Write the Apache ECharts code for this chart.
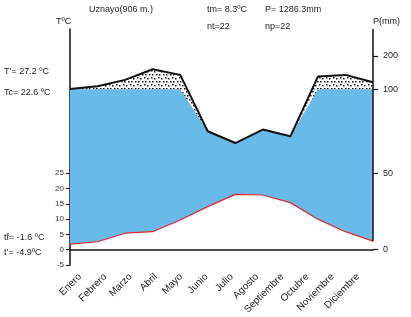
<!DOCTYPE html>
<html>
<head>
<meta charset="utf-8">
<script src="https://cdn.jsdelivr.net/npm/echarts@6/dist/echarts.min.js"></script>
<style>
  html, body { margin: 0; padding: 0; background: #fff; }
  #chart { width: 411px; height: 317px; }
</style>
</head>
<body>
<div id="chart"></div>
<script>
const months = ['Enero', 'Febrero', 'Marzo', 'Abril', 'Mayo', 'Junio', 'Julio', 'Agosto', 'Septiembre', 'Octubre', 'Noviembre', 'Diciembre']
// temperatura media mensual (ºC)
const temps = [1.8, 2.6, 5.4, 5.9, 9.7, 14.1, 18.1, 17.9, 15.4, 10.0, 5.9, 2.8]
// precipitación mensual (mm)
const precip = [101, 109, 128, 160, 143, 75, 68, 76, 72, 138, 143, 121]
const tempTicks = [-5, 0, 5, 10, 15, 20, 25]
const precipTicks = [0, 50, 100, 200]

// mm -> unidades del eje de temperatura (escala comprimida por encima de 100 mm)
const mapP = (p) => {
  if (p <= 50) return p / 2
  if (p <= 100) return 25 + (p - 50) * 0.55
  return 52.5 + (p - 100) * 0.109
}

const yMin = -5
const yMax = 72.2
const blue = '#68bbe9'

// trama de puntos para la zona > 100 mm
const dots = document.createElement('canvas')
dots.width = 7
dots.height = 7
const ctx = dots.getContext('2d')
ctx.fillStyle = '#111'
;[[0, 1], [4, 0], [2, 4], [5, 4]].forEach(([x, y]) => ctx.fillRect(x, y, 1.5, 1.5))

const capped = precip.map((p) => mapP(Math.min(p, 100)))
const full = precip.map(mapP)

const labelFont = 'Liberation Sans, Arial, sans-serif'
const txt = (text, x, y, extra) => ({
  type: 'text',
  x,
  y,
  style: Object.assign({
    text,
    fill: '#222',
    font: '9px ' + labelFont,
    verticalAlign: 'middle'
  }, extra || {})
})

const chart = echarts.init(document.getElementById('chart'))

chart.setOption({
  animation: false,
  backgroundColor: '#fff',
  grid: [
    { left: 70, right: 38, top: 29, bottom: 52 },
    { left: 80, right: 53, top: 29, bottom: 52 }
  ],
  xAxis: [
    {
      type: 'category',
      data: months,
      boundaryGap: false,
      axisLine: { lineStyle: { color: '#111', width: 1.5 } },
      axisTick: { show: false },
      axisLabel: { show: false }
    },
    {
      type: 'category',
      gridIndex: 1,
      data: months,
      boundaryGap: false,
      axisLine: { show: false },
      axisTick: { show: false },
      axisLabel: {
        rotate: 45,
        interval: 0,
        margin: 11,
        fontSize: 10,
        fontFamily: labelFont,
        color: '#222'
      }
    }
  ],
  yAxis: [
    {
      type: 'value',
      min: yMin,
      max: yMax,
      position: 'left',
      splitLine: { show: false },
      axisLine: { show: true, lineStyle: { color: '#111', width: 1.5 } },
      axisTick: { show: true, length: 4, customValues: tempTicks, lineStyle: { color: '#111' } },
      axisLabel: {
        customValues: tempTicks,
        margin: 6,
        fontSize: 8,
        fontFamily: labelFont,
        color: '#333'
      }
    },
    {
      type: 'value',
      min: yMin,
      max: yMax,
      position: 'right',
      splitLine: { show: false },
      axisLine: { show: false },
      axisTick: {
        show: true,
        inside: false,
        length: 5,
        customValues: precipTicks.map(mapP),
        lineStyle: { color: '#111', width: 1.2 }
      },
      axisLabel: {
        customValues: precipTicks.map(mapP),
        margin: 10,
        fontSize: 9,
        fontFamily: labelFont,
        color: '#222',
        formatter: (v) => {
          const i = precipTicks.findIndex((t) => Math.abs(mapP(t) - v) < 0.01)
          return i >= 0 ? String(precipTicks[i]) : ''
        }
      }
    },
    { type: 'value', gridIndex: 1, show: false }
  ],
  series: [
    {
      name: 'baseHumedo',
      type: 'line',
      stack: 'humedo',
      data: temps,
      symbol: 'none',
      lineStyle: { opacity: 0 },
      silent: true
    },
    {
      name: 'humedo',
      type: 'line',
      stack: 'humedo',
      data: capped.map((v, i) => v - temps[i]),
      symbol: 'none',
      lineStyle: { opacity: 0 },
      areaStyle: { color: blue, opacity: 1 },
      silent: true
    },
    {
      name: 'base100',
      type: 'line',
      stack: 'superhumedo',
      data: capped,
      symbol: 'none',
      lineStyle: { opacity: 0 },
      silent: true
    },
    {
      name: 'superhumedo',
      type: 'line',
      stack: 'superhumedo',
      data: full.map((v, i) => v - capped[i]),
      symbol: 'none',
      lineStyle: { opacity: 0 },
      areaStyle: { color: { image: dots, repeat: 'repeat' }, opacity: 1 },
      silent: true
    },
    {
      name: 'Temperatura',
      type: 'line',
      data: temps,
      symbol: 'none',
      z: 4,
      lineStyle: { color: '#e3262b', width: 1.2 }
    },
    {
      name: 'Precipitación',
      type: 'line',
      data: full,
      symbol: 'none',
      z: 5,
      lineStyle: { color: '#111', width: 2 },
      markLine: {
        silent: true,
        symbol: 'none',
        label: { show: false },
        lineStyle: { color: '#111', width: 1.5, type: 'solid' },
        data: [[
          { coord: [months.length - 1, temps[temps.length - 1]] },
          { coord: [months.length - 1, yMax] }
        ]]
      }
    }
  ],
  graphic: [
    txt('Uznayo(906 m.)', 89, 10),
    txt('TºC', 56, 22),
    txt('tm= 8.3ºC', 207, 10),
    txt('P= 1286.3mm', 265, 10),
    txt('nt=22', 207, 27),
    txt('np=22', 265, 27),
    txt('P(mm)', 373, 22),
    txt('T’= 27.2 ºC', 4, 72),
    txt('Tc= 22.6 ºC', 4, 93),
    txt('tf= -1.6 ºC', 4, 238),
    txt('t’= -4.9ºC', 4, 253)
  ]
})
</script>
</body>
</html>
